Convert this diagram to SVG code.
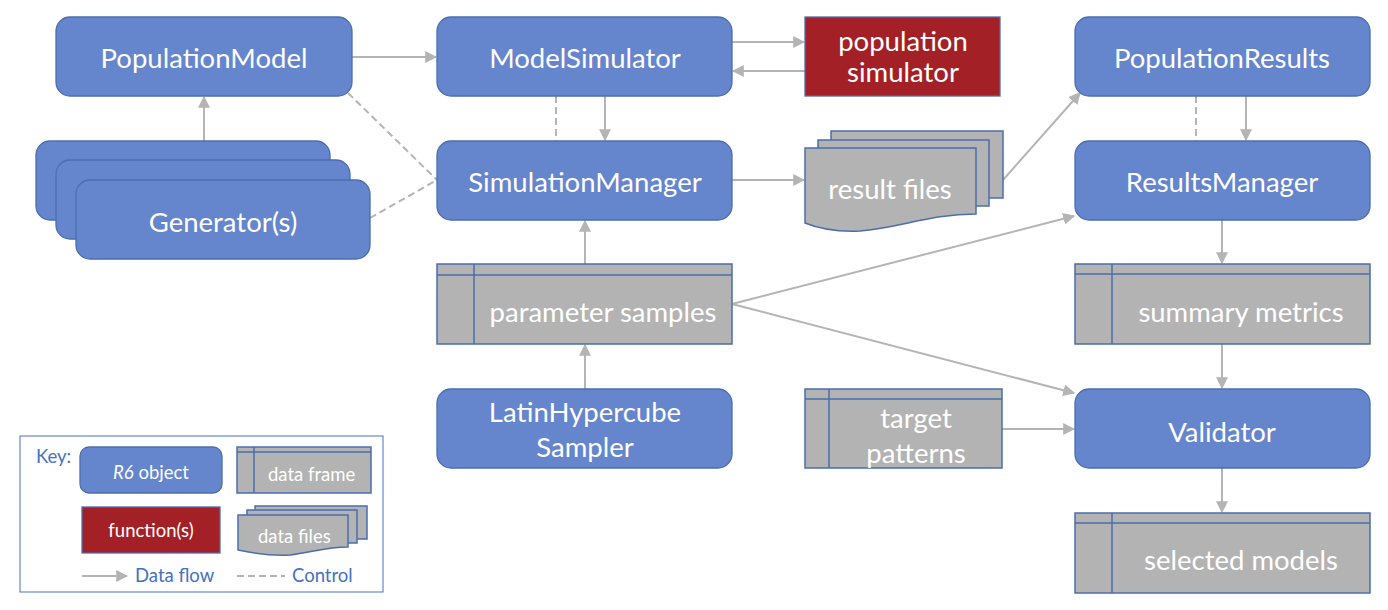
<svg xmlns="http://www.w3.org/2000/svg" width="1388" height="610" viewBox="0 0 1388 610">
<defs>
<style>
.obj{fill:#6585CC;stroke:#4B6DB0;stroke-width:1.3}
.fn{fill:#A32126;stroke:#4B6DB0;stroke-width:1.3}
.df{fill:#B3B3B3;stroke:#4B6DB0;stroke-width:1.5}
.dl{fill:none;stroke:#4B6DB0;stroke-width:1.5}
.t{font-family:Lato,"Open Sans",sans-serif;fill:#fff;font-size:27.5px;text-anchor:middle}
.k{font-family:Lato,"Open Sans",sans-serif;font-size:18.5px}
.kb{fill:#4472C4}
.flow{fill:none;stroke:#B4B4B4;stroke-width:2;marker-end:url(#ah)}
.ctl{fill:none;stroke:#B4B4B4;stroke-width:2;stroke-dasharray:7 4}
</style>
<marker id="ah" viewBox="0 0 10 10" refX="9" refY="5" markerWidth="6" markerHeight="6" markerUnits="strokeWidth" orient="auto">
<path d="M0,0 L10,5 L0,10 Z" fill="#B4B4B4"/>
</marker>
</defs>

<g id="connectors">
<line class="flow" x1="352" y1="57" x2="436" y2="57"/>
<line class="flow" x1="732" y1="42" x2="804" y2="42"/>
<line class="flow" x1="805" y1="71" x2="733" y2="71"/>
<line class="ctl" x1="556" y1="96" x2="556" y2="141"/>
<line class="flow" x1="605" y1="96" x2="605" y2="140"/>
<line class="flow" x1="204" y1="141" x2="204" y2="97"/>
<line class="ctl" x1="348" y1="93" x2="437" y2="180"/>
<line class="ctl" x1="370" y1="218" x2="437" y2="180"/>
<line class="flow" x1="732" y1="180" x2="804" y2="180"/>
<line class="flow" x1="1003" y1="180" x2="1080" y2="93"/>
<line class="ctl" x1="1196" y1="96" x2="1196" y2="141"/>
<line class="flow" x1="1246" y1="96" x2="1246" y2="140"/>
<line class="flow" x1="585" y1="264" x2="585" y2="221"/>
<line class="flow" x1="585" y1="389" x2="585" y2="345"/>
<line class="flow" x1="732" y1="304" x2="1074" y2="216"/>
<line class="flow" x1="732" y1="304" x2="1074" y2="393"/>
<line class="flow" x1="1002" y1="429" x2="1074" y2="429"/>
<line class="flow" x1="1222" y1="220" x2="1222" y2="263"/>
<line class="flow" x1="1222" y1="344" x2="1222" y2="388"/>
<line class="flow" x1="1222" y1="468" x2="1222" y2="512"/>
</g>

<g id="PopulationModel">
<rect class="obj" x="56" y="17" width="296" height="79" rx="14"/>
<text class="t" x="204" y="68">PopulationModel</text>
</g>

<g id="ModelSimulator">
<rect class="obj" x="437" y="17" width="295" height="79" rx="14"/>
<text class="t" x="585" y="68">ModelSimulator</text>
</g>

<g id="population-simulator">
<rect class="fn" x="805" y="17" width="195" height="79"/>
<text class="t" x="903" y="51">population</text>
<text class="t" x="903" y="82">simulator</text>
</g>

<g id="PopulationResults">
<rect class="obj" x="1075" y="17" width="295" height="79" rx="14"/>
<text class="t" x="1222" y="68">PopulationResults</text>
</g>

<g id="Generators">
<rect class="obj" x="36" y="141" width="294" height="79" rx="14"/>
<rect class="obj" x="56" y="160" width="294" height="79" rx="14"/>
<rect class="obj" x="76" y="180" width="294" height="79" rx="14"/>
<text class="t" x="223" y="232">Generator(s)</text>
</g>

<g id="SimulationManager">
<rect class="obj" x="437" y="141" width="295" height="79" rx="14"/>
<text class="t" x="585" y="192">SimulationManager</text>
</g>

<g id="result-files">
<rect class="df" x="831" y="131" width="172" height="67"/>
<rect class="df" x="818" y="140" width="171" height="66"/>
<path class="df" d="M805,148 H976 V214 C930,214 900,228 860,231 C840,232 820,229 805,223 Z"/>
<text class="t" x="890" y="199">result files</text>
</g>

<g id="ResultsManager">
<rect class="obj" x="1075" y="141" width="295" height="79" rx="14"/>
<text class="t" x="1222" y="192">ResultsManager</text>
</g>

<g id="parameter-samples">
<rect class="df" x="437" y="264" width="295" height="80"/>
<path class="dl" d="M437,275 H732 M474,264 V344"/>
<text class="t" x="603" y="322">parameter samples</text>
</g>

<g id="summary-metrics">
<rect class="df" x="1075" y="264" width="295" height="80"/>
<path class="dl" d="M1075,274 H1370 M1112,264 V344"/>
<text class="t" x="1241" y="322">summary metrics</text>
</g>

<g id="LatinHypercubeSampler">
<rect class="obj" x="437" y="389" width="295" height="79" rx="14"/>
<text class="t" x="585" y="422">LatinHypercube</text>
<text class="t" x="585" y="457">Sampler</text>
</g>

<g id="target-patterns">
<rect class="df" x="805" y="389" width="197" height="79"/>
<path class="dl" d="M805,399 H1002 M829,389 V468"/>
<text class="t" x="916" y="428">target</text>
<text class="t" x="916" y="463">patterns</text>
</g>

<g id="Validator">
<rect class="obj" x="1075" y="389" width="295" height="79" rx="14"/>
<text class="t" x="1222" y="442">Validator</text>
</g>

<g id="selected-models">
<rect class="df" x="1075" y="513" width="295" height="80"/>
<path class="dl" d="M1075,523 H1370 M1112,513 V593"/>
<text class="t" x="1241" y="570">selected models</text>
</g>

<g id="key">
<rect x="20" y="436" width="363" height="156" fill="#fff" stroke="#4472C4" stroke-width="1"/>
<text class="k kb" x="36" y="463">Key:</text>
<rect class="obj" x="80" y="447" width="142" height="46" rx="9"/>
<text class="k" x="151" y="479" fill="#fff" text-anchor="middle"><tspan font-style="italic">R6</tspan> object</text>
<rect class="df" x="237" y="447" width="134" height="46"/>
<path class="dl" d="M237,452 H371 M254,447 V493"/>
<text class="k" x="268" y="481" fill="#fff">data frame</text>
<rect class="fn" x="82" y="507" width="138" height="46"/>
<text class="k" x="151" y="537" fill="#fff" text-anchor="middle">function(s)</text>
<rect class="df" x="255" y="506" width="112" height="33"/>
<rect class="df" x="247" y="510" width="110" height="33"/>
<path class="df" d="M238,515 H348 V547 C325,547 310,553 290,555 C270,556 252,553 238,550 Z"/>
<text class="k" x="258" y="543" fill="#fff">data files</text>
<line class="flow" x1="82" y1="576" x2="127" y2="576"/>
<text class="k kb" x="135" y="582">Data flow</text>
<line class="ctl" x1="237" y1="576" x2="285" y2="576" stroke-dasharray="5 3"/>
<text class="k kb" x="292" y="582">Control</text>
</g>
</svg>
